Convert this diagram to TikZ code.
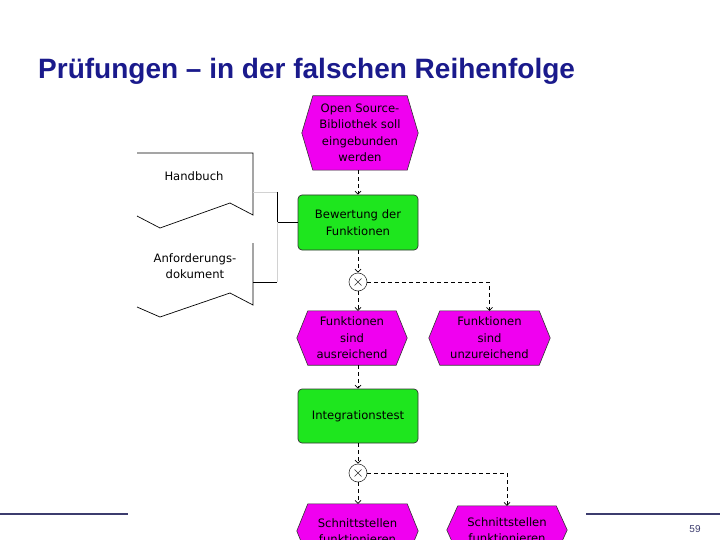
\documentclass[tikz,border=0pt]{standalone}
\usepackage{fontspec}
\setmainfont{Liberation Sans}
\newfontfamily\arisfont{DejaVu Sans}
\usetikzlibrary{arrows.meta,calc,backgrounds}
\pgfdeclarelayer{bottom}
\pgfsetlayers{bottom,background,main}
\definecolor{evmag}{RGB}{240,0,240}
\definecolor{fngreen}{RGB}{30,230,30}
\definecolor{titleblue}{RGB}{26,26,140}
\definecolor{rulecol}{RGB}{60,60,110}
\begin{document}
\begin{tikzpicture}[x=1pt,y=-1pt,
  txt/.style={font=\arisfont\fontsize{11.6}{16.5}\selectfont, align=center, text=black},
  evnode/.style={txt, minimum width=#1, minimum height=54pt, inner sep=0pt},
  fnbox/.style={txt, draw=black!80, fill=fngreen, rounded corners=4pt, minimum width=120pt, minimum height=55pt, inner sep=0pt, line width=0.7pt},
  xorc/.style={circle, draw=black!80, fill=white, minimum size=18pt, inner sep=0pt, line width=0.6pt,
    path picture={\draw[line width=0.6pt]
      ($(path picture bounding box.center)+(-3.5,-3.5)$) -- ($(path picture bounding box.center)+(3.5,3.5)$)
      ($(path picture bounding box.center)+(-3.5,3.5)$) -- ($(path picture bounding box.center)+(3.5,-3.5)$);}},
  flow/.style={draw=black, line width=0.7pt, dash pattern=on 4pt off 3pt, -{Straight Barb[length=3pt,width=6pt]}},
  docline/.style={draw=black, line width=0.7pt},
  evshape/.style={draw=black!80, fill=evmag, line width=0.6pt},
  lightcon/.style={draw=gray!35, line width=0.8pt},
  darkcon/.style={draw=black, line width=0.7pt}]
\path[use as bounding box] (0,0) rectangle (720,540);
\clip (0,0) rectangle (720,540);
\begin{pgfonlayer}{bottom}
\fill[white] (0,0) rectangle (720,540);
\end{pgfonlayer}

% title
\node[anchor=base west, font=\bfseries\fontsize{28}{32}\selectfont, text=titleblue, inner sep=0pt] (title) at (38,79) {Prüfungen – in der falschen Reihenfolge};

% events and functions
\node[evnode=116pt, minimum height=74pt] (e1) at (360,133) {Open Source-\\Bibliothek soll\\eingebunden\\werden};
\node[fnbox] (f1) at (358,222.5) {Bewertung der\\Funktionen};
\node[xorc] (x1) at (358,282) {};
\node[evnode=110pt] (e2) at (352,338) {Funktionen\\sind\\ausreichend};
\node[evnode=121pt] (e3) at (489.5,338) {Funktionen\\sind\\unzureichend};
\node[fnbox, minimum height=54pt] (f2) at (358,416) {Integrationstest};
\node[xorc] (x2) at (358,473) {};
\node[evnode=121pt] (e4) at (357.5,531) {Schnittstellen\\funktionieren};
\node[evnode=120pt, minimum height=48pt] (e5) at (507,530) {Schnittstellen\\funktionieren};

\begin{scope}[on background layer]
\foreach \n in {e1,e2,e3,e4,e5} {
  \path[evshape] ($(\n.north west)+(11,0)$) -- ($(\n.north east)+(-11,0)$) -- (\n.east)
    -- ($(\n.south east)+(-11,0)$) -- ($(\n.south west)+(11,0)$) -- (\n.west) -- cycle;
}
\end{scope}

% documents
\draw[docline] (137,153) -- (253,153) -- (253,215) -- (230,203) -- (160,228) -- (137,216);
\node[txt] (hb) at (194,176) {Handbuch};
\draw[docline] (253,243) -- (253,305) -- (230,293) -- (160,317) -- (137,307);
\node[txt] (ad) at (195,266) {Anforderungs-\\dokument};

\coordinate (hbR) at (253,192);
\coordinate (adR) at (253,282);
\coordinate (j1) at (277,192);
\coordinate (j2) at (277,282);
\coordinate (jm) at (j1 |- f1.west);
\path[lightcon] (hbR) -- (j1);
\path[darkcon] (j1) -- (jm) -- (f1.west);
\path[darkcon] (adR) -- (j2);
\path[lightcon] (j2) -- (jm);

% control flow
\draw[flow] (f1.north |- e1.south) -- (f1.north);
\draw[flow] (f1.south) -- (x1.north);
\draw[flow] (x1.south) -- (x1.south |- e2.north);
\draw[flow] (x1.east) -- (x1.east -| e3.north) -- (e3.north);
\draw[flow] (x1.south |- e2.south) -- (f2.north);
\draw[flow] (f2.south) -- (x2.north);
\draw[flow] (x2.south) -- (x2.south |- e4.north);
\draw[flow] (x2.east) -- (x2.east -| e5.north) -- (e5.north);

% footer
\draw[rulecol, line width=2.5pt] (0,514) -- (128,514);
\draw[rulecol, line width=2.5pt] (586,514) -- (720,514);
\node[font=\fontsize{10}{12}\selectfont, text=rulecol] (pg) at (695,529) {59};
\end{tikzpicture}
\end{document}
